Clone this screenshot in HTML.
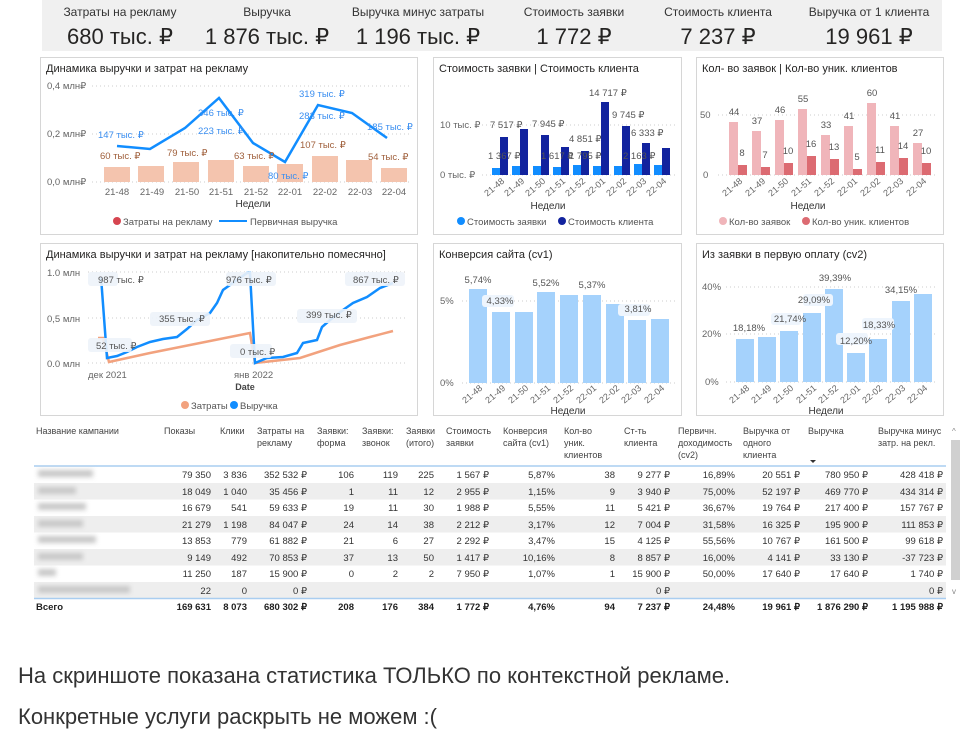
<!DOCTYPE html>
<html><head><meta charset="utf-8"><style>
html,body{margin:0;padding:0;background:#fff;width:971px;height:738px;overflow:hidden}
svg{display:block;font-family:"Liberation Sans",sans-serif}
.ax{font-size:9.5px;fill:#666}
.rx{font-size:9px;fill:#666}
.t{font-size:11px;fill:#252423}
.lb{font-size:9.5px;fill:#555}
.tb{font-size:9.5px;fill:#333}
.th{font-size:9px;fill:#444}
.b{font-weight:bold;fill:#222}
</style></head><body>
<svg width="971" height="738" viewBox="0 0 971 738">
<defs><filter id="bl"><feGaussianBlur stdDeviation="2.5"/></filter></defs>
<rect x="42" y="0" width="900" height="51" fill="#f0f0f0"/>
<g text-anchor="middle" fill="#333">
<text x="120" y="16" font-size="12">Затраты на рекламу</text>
<text x="267" y="16" font-size="12">Выручка</text>
<text x="418" y="16" font-size="12">Выручка минус затраты</text>
<text x="574" y="16" font-size="12">Стоимость заявки</text>
<text x="718" y="16" font-size="12">Стоимость клиента</text>
<text x="869" y="16" font-size="12">Выручка от 1 клиента</text>
<g font-size="22" fill="#252423">
<text x="120" y="44">680 тыс. ₽</text>
<text x="267" y="44">1 876 тыс. ₽</text>
<text x="418" y="44">1 196 тыс. ₽</text>
<text x="574" y="44">1 772 ₽</text>
<text x="718" y="44">7 237 ₽</text>
<text x="869" y="44">19 961 ₽</text>
</g></g>
<g fill="none" stroke="#d6d6d6">
<rect x="40.5" y="57.5" width="377" height="177"/>
<rect x="433.5" y="57.5" width="248" height="177"/>
<rect x="696.5" y="57.5" width="247" height="177"/>
<rect x="40.5" y="243.5" width="377" height="172"/>
<rect x="433.5" y="243.5" width="248" height="172"/>
<rect x="696.5" y="243.5" width="247" height="172"/>
</g>
<!-- P1 -->
<text class="t" x="46" y="72">Динамика выручки и затрат на рекламу</text>
<g class="ax"><text x="47" y="89">0,4 млн₽</text><text x="47" y="137">0,2 млн₽</text><text x="47" y="185">0,0 млн₽</text></g>
<g stroke="#ccc" stroke-dasharray="1,3"><line x1="92" y1="86" x2="410" y2="86"/><line x1="92" y1="134" x2="410" y2="134"/><line x1="92" y1="182" x2="410" y2="182"/></g>
<g fill="#f4c4ae">
<rect x="104" y="167" width="26" height="15"/><rect x="138" y="166" width="26" height="16"/><rect x="173" y="162" width="26" height="20"/><rect x="208" y="160" width="26" height="22"/><rect x="243" y="166" width="26" height="16"/><rect x="277" y="164" width="26" height="18"/><rect x="312" y="156" width="26" height="26"/><rect x="346" y="160" width="26" height="22"/><rect x="381" y="168" width="26" height="14"/>
</g>
<polyline points="117,146 150,149 185,128 219,98 253,143 285,162 318,105 352,113 387,138" fill="none" stroke="#118DFF" stroke-width="2.5"/>
<g font-size="9.5" fill="#3a8ef0"><text x="98" y="138">147 тыс. ₽</text><text x="198" y="116">346 тыс. ₽</text><text x="198" y="134">223 тыс. ₽</text><text x="268" y="179">80 тыс. ₽</text><text x="299" y="97">319 тыс. ₽</text><text x="299" y="119">283 тыс. ₽</text><text x="367" y="130">185 тыс. ₽</text></g>
<g font-size="9.5" fill="#a0603c"><text x="100" y="159">60 тыс. ₽</text><text x="167" y="156">79 тыс. ₽</text><text x="234" y="159">63 тыс. ₽</text><text x="300" y="148">107 тыс. ₽</text><text x="368" y="160">54 тыс. ₽</text></g>
<g class="ax" text-anchor="middle"><text x="117" y="195">21-48</text><text x="152" y="195">21-49</text><text x="187" y="195">21-50</text><text x="221" y="195">21-51</text><text x="256" y="195">21-52</text><text x="290" y="195">22-01</text><text x="325" y="195">22-02</text><text x="360" y="195">22-03</text><text x="394" y="195">22-04</text></g>
<text x="253" y="207" text-anchor="middle" font-size="10" fill="#333">Недели</text>
<circle cx="117" cy="221" r="4" fill="#d64550"/><text class="lb" x="123" y="225">Затраты на рекламу</text>
<line x1="219" y1="221" x2="247" y2="221" stroke="#118DFF" stroke-width="2"/><text class="lb" x="250" y="225">Первичная выручка</text>
<!-- P2 -->
<text class="t" x="439" y="72">Стоимость заявки | Стоимость клиента</text>
<g class="ax"><text x="440" y="128">10 тыс. ₽</text><text x="440" y="178">0 тыс. ₽</text></g>
<g stroke="#ccc" stroke-dasharray="1,3"><line x1="482" y1="125" x2="676" y2="125"/><line x1="482" y1="175" x2="676" y2="175"/></g>
<g fill="#118DFF"><rect x="492" y="168" width="8" height="7"/><rect x="512" y="166" width="8" height="9"/><rect x="533" y="166" width="8" height="9"/><rect x="553" y="167" width="8" height="8"/><rect x="573" y="165" width="8" height="10"/><rect x="593" y="166" width="8" height="9"/><rect x="614" y="166" width="8" height="9"/><rect x="634" y="164" width="8" height="11"/><rect x="654" y="165" width="8" height="10"/></g>
<g fill="#12239E"><rect x="500" y="137" width="8" height="38"/><rect x="520" y="129" width="8" height="46"/><rect x="541" y="135" width="8" height="40"/><rect x="561" y="147" width="8" height="28"/><rect x="581" y="151" width="8" height="24"/><rect x="601" y="102" width="8" height="73"/><rect x="622" y="126" width="8" height="49"/><rect x="642" y="143" width="8" height="32"/><rect x="662" y="148" width="8" height="27"/></g>
<g class="lb"><text x="490" y="128">7 517 ₽</text><text x="532" y="127">7 945 ₽</text><text x="488" y="159">1 367 ₽</text><text x="541" y="159">1 617 ₽</text><text x="569" y="142">4 851 ₽</text><text x="589" y="96">14 717 ₽</text><text x="612" y="118">9 745 ₽</text><text x="569" y="159">1 795 ₽</text><text x="623" y="159">2 163 ₽</text><text x="631" y="136">6 333 ₽</text></g>
<g class="rx" text-anchor="end"><text transform="translate(505,182) rotate(-40)">21-48</text><text transform="translate(525,182) rotate(-40)">21-49</text><text transform="translate(546,182) rotate(-40)">21-50</text><text transform="translate(566,182) rotate(-40)">21-51</text><text transform="translate(586,182) rotate(-40)">21-52</text><text transform="translate(606,182) rotate(-40)">22-01</text><text transform="translate(627,182) rotate(-40)">22-02</text><text transform="translate(647,182) rotate(-40)">22-03</text><text transform="translate(667,182) rotate(-40)">22-04</text></g>
<text x="548" y="209" text-anchor="middle" font-size="10" fill="#333">Недели</text>
<circle cx="461" cy="221" r="4" fill="#118DFF"/><text class="lb" x="467" y="225">Стоимость заявки</text>
<circle cx="562" cy="221" r="4" fill="#12239E"/><text class="lb" x="568" y="225">Стоимость клиента</text>
<!-- P3 -->
<text class="t" x="702" y="72">Кол- во заявок | Кол-во уник. клиентов</text>
<g class="ax"><text x="700" y="118">50</text><text x="703" y="178">0</text></g>
<g stroke="#ccc" stroke-dasharray="1,3"><line x1="718" y1="115" x2="938" y2="115"/><line x1="718" y1="175" x2="938" y2="175"/></g>
<g fill="#f0b5ba"><rect x="729" y="122" width="9" height="53"/><rect x="752" y="131" width="9" height="44"/><rect x="775" y="120" width="9" height="55"/><rect x="798" y="109" width="9" height="66"/><rect x="821" y="135" width="9" height="40"/><rect x="844" y="126" width="9" height="49"/><rect x="867" y="103" width="9" height="72"/><rect x="890" y="126" width="9" height="49"/><rect x="913" y="143" width="9" height="32"/></g>
<g fill="#dc6b72"><rect x="738" y="165" width="9" height="10"/><rect x="761" y="167" width="9" height="8"/><rect x="784" y="163" width="9" height="12"/><rect x="807" y="156" width="9" height="19"/><rect x="830" y="159" width="9" height="16"/><rect x="853" y="169" width="9" height="6"/><rect x="876" y="162" width="9" height="13"/><rect x="899" y="158" width="9" height="17"/><rect x="922" y="163" width="9" height="12"/></g>
<g class="lb" text-anchor="middle"><text x="734" y="115">44</text><text x="757" y="124">37</text><text x="780" y="113">46</text><text x="803" y="102">55</text><text x="826" y="128">33</text><text x="849" y="119">41</text><text x="872" y="96">60</text><text x="895" y="119">41</text><text x="918" y="136">27</text>
<text x="742" y="156">8</text><text x="765" y="158">7</text><text x="788" y="154">10</text><text x="811" y="147">16</text><text x="834" y="150">13</text><text x="857" y="160">5</text><text x="880" y="153">11</text><text x="903" y="149">14</text><text x="926" y="154">10</text></g>
<g class="rx" text-anchor="end"><text transform="translate(743,182) rotate(-40)">21-48</text><text transform="translate(766,182) rotate(-40)">21-49</text><text transform="translate(789,182) rotate(-40)">21-50</text><text transform="translate(812,182) rotate(-40)">21-51</text><text transform="translate(835,182) rotate(-40)">21-52</text><text transform="translate(858,182) rotate(-40)">22-01</text><text transform="translate(881,182) rotate(-40)">22-02</text><text transform="translate(904,182) rotate(-40)">22-03</text><text transform="translate(927,182) rotate(-40)">22-04</text></g>
<text x="808" y="209" text-anchor="middle" font-size="10" fill="#333">Недели</text>
<circle cx="723" cy="221" r="4" fill="#f0b5ba"/><text class="lb" x="729" y="225">Кол-во заявок</text>
<circle cx="806" cy="221" r="4" fill="#dc6b72"/><text class="lb" x="812" y="225">Кол-во уник. клиентов</text>
<!-- P4 -->
<text class="t" x="46" y="258">Динамика выручки и затрат на рекламу [накопительно помесячно]</text>
<g class="ax" font-size="10"><text x="47" y="276">1.0 млн</text><text x="47" y="322">0,5 млн</text><text x="47" y="367">0.0 млн</text></g>
<g stroke="#ccc" stroke-dasharray="1,3"><line x1="88" y1="272" x2="405" y2="272"/><line x1="88" y1="318" x2="405" y2="318"/><line x1="88" y1="363" x2="405" y2="363"/></g>
<polyline points="98,338 103,338 109,362 150,353 200,343 250,333 255,363 300,358 340,345 370,337 393,331" fill="none" stroke="#f2a27e" stroke-width="2.5"/>
<polyline points="101,277 107,358 117,356 127,352 137,347 150,342 163,339 177,337 187,329 197,320 210,313 217,303 223,290 237,280 247,273 250,273 255,363 267,358 283,357 297,353 303,343 317,340 322,327 330,320 343,310 353,303 367,297 380,288 393,283" fill="none" stroke="#118DFF" stroke-width="2.5"/>
<g fill="#eef3fa" opacity="0.9"><rect x="88" y="272" width="30" height="14" rx="3"/><rect x="88" y="338" width="44" height="14" rx="3"/><rect x="150" y="312" width="60" height="14" rx="3"/><rect x="226" y="272" width="50" height="14" rx="3"/><rect x="230" y="344" width="42" height="14" rx="3"/><rect x="297" y="309" width="60" height="14" rx="3"/><rect x="345" y="272" width="60" height="14" rx="3"/></g>
<g class="lb"><text x="98" y="283">987 тыс. ₽</text><text x="96" y="349">52 тыс. ₽</text><text x="159" y="322">355 тыс. ₽</text><text x="226" y="283">976 тыс. ₽</text><text x="240" y="355">0 тыс. ₽</text><text x="306" y="318">399 тыс. ₽</text><text x="353" y="283">867 тыс. ₽</text></g>
<g class="ax" font-size="10"><text x="88" y="378">дек 2021</text><text x="234" y="378">янв 2022</text></g>
<text x="245" y="390" text-anchor="middle" font-size="9" font-weight="bold" fill="#444">Date</text>
<circle cx="185" cy="405" r="4" fill="#f2a27e"/><text class="lb" x="191" y="409">Затраты</text>
<circle cx="234" cy="405" r="4" fill="#118DFF"/><text class="lb" x="240" y="409">Выручка</text>
<!-- P5 -->
<text class="t" x="439" y="258">Конверсия сайта (cv1)</text>
<g class="ax"><text x="440" y="304">5%</text><text x="440" y="386">0%</text></g>
<g stroke="#ccc" stroke-dasharray="1,3"><line x1="462" y1="301" x2="676" y2="301"/><line x1="462" y1="383" x2="676" y2="383"/></g>
<g fill="#a5d2fc"><rect x="469" y="289" width="18" height="94"/><rect x="492" y="312" width="18" height="71"/><rect x="515" y="312" width="18" height="71"/><rect x="537" y="292" width="18" height="91"/><rect x="560" y="295" width="18" height="88"/><rect x="583" y="295" width="18" height="88"/><rect x="606" y="304" width="18" height="79"/><rect x="628" y="320" width="18" height="63"/><rect x="651" y="319" width="18" height="64"/></g>
<g fill="#eef5fd"><rect x="482" y="295" width="32" height="12" rx="3"/><rect x="618" y="304" width="32" height="12" rx="3"/></g>
<g class="lb" text-anchor="middle"><text x="478" y="283">5,74%</text><text x="500" y="304">4,33%</text><text x="546" y="286">5,52%</text><text x="592" y="288">5,37%</text><text x="638" y="312">3,81%</text></g>
<g class="rx" text-anchor="end"><text transform="translate(483,389) rotate(-40)">21-48</text><text transform="translate(506,389) rotate(-40)">21-49</text><text transform="translate(529,389) rotate(-40)">21-50</text><text transform="translate(551,389) rotate(-40)">21-51</text><text transform="translate(574,389) rotate(-40)">21-52</text><text transform="translate(597,389) rotate(-40)">22-01</text><text transform="translate(620,389) rotate(-40)">22-02</text><text transform="translate(642,389) rotate(-40)">22-03</text><text transform="translate(665,389) rotate(-40)">22-04</text></g>
<text x="568" y="414" text-anchor="middle" font-size="10" fill="#333">Недели</text>
<!-- P6 -->
<text class="t" x="702" y="258">Из заявки в первую оплату (cv2)</text>
<g class="ax"><text x="702" y="290">40%</text><text x="702" y="337">20%</text><text x="705" y="385">0%</text></g>
<g stroke="#ccc" stroke-dasharray="1,3"><line x1="726" y1="287" x2="938" y2="287"/><line x1="726" y1="334" x2="938" y2="334"/><line x1="726" y1="382" x2="938" y2="382"/></g>
<g fill="#a5d2fc"><rect x="736" y="339" width="18" height="43"/><rect x="758" y="337" width="18" height="45"/><rect x="780" y="331" width="18" height="51"/><rect x="803" y="313" width="18" height="69"/><rect x="825" y="289" width="18" height="93"/><rect x="847" y="353" width="18" height="29"/><rect x="869" y="339" width="18" height="43"/><rect x="892" y="301" width="18" height="81"/><rect x="914" y="294" width="18" height="88"/></g>
<g fill="#eef5fd"><rect x="803" y="294" width="30" height="12" rx="3"/><rect x="836" y="333" width="32" height="12" rx="3"/><rect x="862" y="318" width="32" height="12" rx="3"/><rect x="771" y="313" width="30" height="12" rx="3"/></g>
<g class="lb" text-anchor="middle"><text x="749" y="331">18,18%</text><text x="790" y="322">21,74%</text><text x="814" y="303">29,09%</text><text x="835" y="281">39,39%</text><text x="856" y="344">12,20%</text><text x="879" y="328">18,33%</text><text x="901" y="293">34,15%</text></g>
<g class="rx" text-anchor="end"><text transform="translate(750,389) rotate(-40)">21-48</text><text transform="translate(772,389) rotate(-40)">21-49</text><text transform="translate(794,389) rotate(-40)">21-50</text><text transform="translate(817,389) rotate(-40)">21-51</text><text transform="translate(839,389) rotate(-40)">21-52</text><text transform="translate(861,389) rotate(-40)">22-01</text><text transform="translate(883,389) rotate(-40)">22-02</text><text transform="translate(906,389) rotate(-40)">22-03</text><text transform="translate(928,389) rotate(-40)">22-04</text></g>
<text x="826" y="414" text-anchor="middle" font-size="10" fill="#333">Недели</text>
<!-- TABLE -->
<g class="th">
<text x="36" y="434">Название кампании</text>
<text x="164" y="434">Показы</text>
<text x="220" y="434">Клики</text>
<text x="257" y="434">Затраты на</text><text x="257" y="446">рекламу</text>
<text x="317" y="434">Заявки:</text><text x="317" y="446">форма</text>
<text x="362" y="434">Заявки:</text><text x="362" y="446">звонок</text>
<text x="406" y="434">Заявки</text><text x="406" y="446">(итого)</text>
<text x="446" y="434">Стоимость</text><text x="446" y="446">заявки</text>
<text x="503" y="434">Конверсия</text><text x="503" y="446">сайта (cv1)</text>
<text x="564" y="434">Кол-во</text><text x="564" y="446">уник.</text><text x="564" y="458">клиентов</text>
<text x="624" y="434">Ст-ть</text><text x="624" y="446">клиента</text>
<text x="678" y="434">Первичн.</text><text x="678" y="446">доходимость</text><text x="678" y="458">(cv2)</text>
<text x="743" y="434">Выручка от</text><text x="743" y="446">одного</text><text x="743" y="458">клиента</text>
<text x="808" y="434">Выручка</text>
<text x="878" y="434">Выручка минус</text><text x="878" y="446">затр. на рекл.</text>
</g>
<path d="M810 460 l3 3 l3 -3z" fill="#333"/>
<g fill="#eeeeee"><rect x="34" y="483" width="912" height="16.5"/><rect x="34" y="516" width="912" height="16.5"/><rect x="34" y="549" width="912" height="16.5"/><rect x="34" y="582" width="912" height="16.5"/></g>
<line x1="34" y1="466" x2="946" y2="466" stroke="#a9cdf0" stroke-width="1.5"/>
<line x1="34" y1="598.5" x2="946" y2="598.5" stroke="#a9cdf0" stroke-width="1.5"/>
<g fill="#c8c8c8" filter="url(#bl)"><rect x="38" y="470" width="55" height="7"/><rect x="38" y="487" width="38" height="7"/><rect x="38" y="503" width="48" height="7"/><rect x="38" y="520" width="45" height="7"/><rect x="38" y="536" width="58" height="7"/><rect x="38" y="553" width="45" height="7"/><rect x="38" y="569" width="18" height="7"/><rect x="38" y="586" width="92" height="7"/></g>
<rect x="951" y="440" width="9" height="140" fill="#d0d0d0"/>
<text x="952" y="434" font-size="8" fill="#888">^</text><text x="952" y="594" font-size="8" fill="#888">v</text>
<g class="tb" text-anchor="end">
<g transform="translate(0,478)"><text x="211">79 350</text><text x="247">3 836</text><text x="307">352 532 ₽</text><text x="354">106</text><text x="398">119</text><text x="434">225</text><text x="489">1 567 ₽</text><text x="555">5,87%</text><text x="615">38</text><text x="670">9 277 ₽</text><text x="735">16,89%</text><text x="800">20 551 ₽</text><text x="868">780 950 ₽</text><text x="943">428 418 ₽</text></g>
<g transform="translate(0,495)"><text x="211">18 049</text><text x="247">1 040</text><text x="307">35 456 ₽</text><text x="354">1</text><text x="398">11</text><text x="434">12</text><text x="489">2 955 ₽</text><text x="555">1,15%</text><text x="615">9</text><text x="670">3 940 ₽</text><text x="735">75,00%</text><text x="800">52 197 ₽</text><text x="868">469 770 ₽</text><text x="943">434 314 ₽</text></g>
<g transform="translate(0,511)"><text x="211">16 679</text><text x="247">541</text><text x="307">59 633 ₽</text><text x="354">19</text><text x="398">11</text><text x="434">30</text><text x="489">1 988 ₽</text><text x="555">5,55%</text><text x="615">11</text><text x="670">5 421 ₽</text><text x="735">36,67%</text><text x="800">19 764 ₽</text><text x="868">217 400 ₽</text><text x="943">157 767 ₽</text></g>
<g transform="translate(0,528)"><text x="211">21 279</text><text x="247">1 198</text><text x="307">84 047 ₽</text><text x="354">24</text><text x="398">14</text><text x="434">38</text><text x="489">2 212 ₽</text><text x="555">3,17%</text><text x="615">12</text><text x="670">7 004 ₽</text><text x="735">31,58%</text><text x="800">16 325 ₽</text><text x="868">195 900 ₽</text><text x="943">111 853 ₽</text></g>
<g transform="translate(0,544)"><text x="211">13 853</text><text x="247">779</text><text x="307">61 882 ₽</text><text x="354">21</text><text x="398">6</text><text x="434">27</text><text x="489">2 292 ₽</text><text x="555">3,47%</text><text x="615">15</text><text x="670">4 125 ₽</text><text x="735">55,56%</text><text x="800">10 767 ₽</text><text x="868">161 500 ₽</text><text x="943">99 618 ₽</text></g>
<g transform="translate(0,561)"><text x="211">9 149</text><text x="247">492</text><text x="307">70 853 ₽</text><text x="354">37</text><text x="398">13</text><text x="434">50</text><text x="489">1 417 ₽</text><text x="555">10,16%</text><text x="615">8</text><text x="670">8 857 ₽</text><text x="735">16,00%</text><text x="800">4 141 ₽</text><text x="868">33 130 ₽</text><text x="943">-37 723 ₽</text></g>
<g transform="translate(0,577)"><text x="211">11 250</text><text x="247">187</text><text x="307">15 900 ₽</text><text x="354">0</text><text x="398">2</text><text x="434">2</text><text x="489">7 950 ₽</text><text x="555">1,07%</text><text x="615">1</text><text x="670">15 900 ₽</text><text x="735">50,00%</text><text x="800">17 640 ₽</text><text x="868">17 640 ₽</text><text x="943">1 740 ₽</text></g>
<g transform="translate(0,594)"><text x="211">22</text><text x="247">0</text><text x="307">0 ₽</text><text x="670">0 ₽</text><text x="943">0 ₽</text></g>
<g transform="translate(0,610)" class="b" font-weight="bold"><text x="211">169 631</text><text x="247">8 073</text><text x="307">680 302 ₽</text><text x="354">208</text><text x="398">176</text><text x="434">384</text><text x="489">1 772 ₽</text><text x="555">4,76%</text><text x="615">94</text><text x="670">7 237 ₽</text><text x="735">24,48%</text><text x="800">19 961 ₽</text><text x="868">1 876 290 ₽</text><text x="943">1 195 988 ₽</text></g>
</g>
<text x="36" y="610" font-size="9.5" font-weight="bold" fill="#222">Всего</text>
<text x="18" y="683" font-size="22" fill="#333">На скриншоте показана статистика ТОЛЬКО по контекстной рекламе.</text>
<text x="18" y="724" font-size="22" fill="#333">Конкретные услуги раскрыть не можем :(</text>
</svg>
</body></html>
